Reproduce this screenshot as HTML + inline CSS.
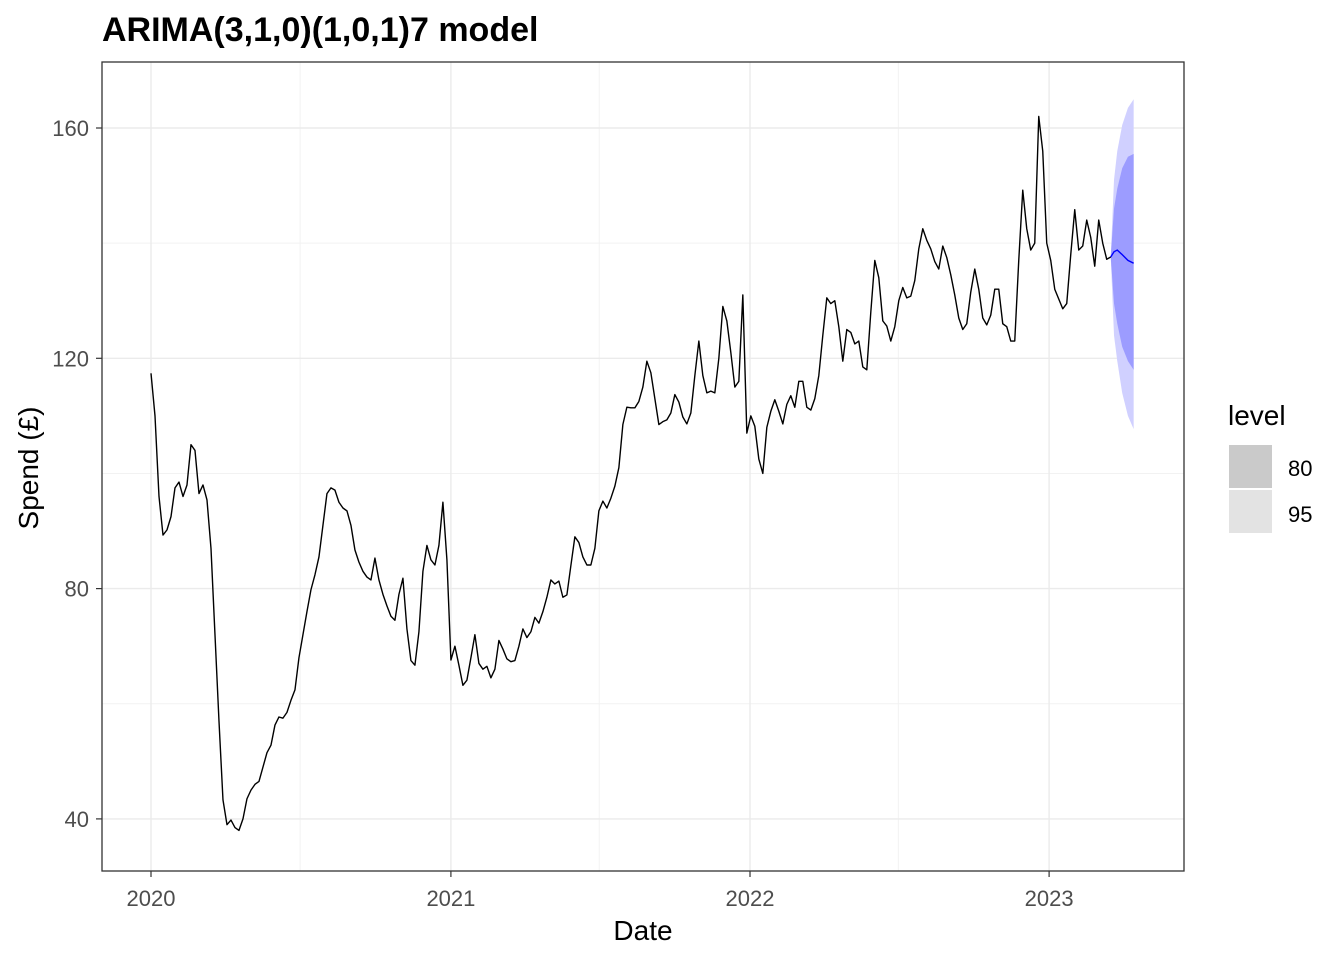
<!DOCTYPE html>
<html><head><meta charset="utf-8"><style>
body{margin:0;background:#fff;}
svg text{font-family:"Liberation Sans",Arial,sans-serif;}
</style></head><body>
<svg id="chart" width="1344" height="960" xmlns="http://www.w3.org/2000/svg">
<rect width="1344" height="960" fill="#fff"/>
<text x="102" y="41" font-size="34" font-weight="bold" fill="#000">ARIMA(3,1,0)(1,0,1)7 model</text>
<g id="grid"></g>
<g id="bands"></g>
<g id="lines"></g>
<rect x="102" y="62" width="1082" height="809" fill="none" stroke="#333" stroke-width="1.3"/>
<g id="axes"></g>
<text x="643" y="940" font-size="28" text-anchor="middle" fill="#000">Date</text>
<text transform="translate(38,468) rotate(-90)" font-size="28" text-anchor="middle" fill="#000">Spend (£)</text>
<g>
<text x="1228" y="425" font-size="28" fill="#000">level</text>
<rect x="1229" y="445" width="43" height="43" fill="#cacaca"/>
<rect x="1229" y="490" width="43" height="43" fill="#e3e3e3"/>
<text x="1288" y="476" font-size="22" fill="#000">80</text>
<text x="1288" y="522" font-size="22" fill="#000">95</text>
</g>
</svg>
<script>
const startDay = 0;           // days since 2020-01-01
const stepDays = 4.88;
const spend = [117.4,110,96,89.3,90.2,92.5,97.5,98.5,96,98,105,104,96.5,98,95.4,87,72,57,43.3,39,39.8,38.5,38,40,43.5,45,46,46.5,49,51.5,52.8,56.3,57.7,57.5,58.5,60.6,62.4,68,72,76,79.8,82.4,85.5,91,96.5,97.5,97.1,95,94,93.5,91,86.7,84.6,83,82,81.5,85.3,81.5,79,77,75.2,74.5,79,81.8,73,67.5,66.7,72.5,83,87.5,85,84.1,87.5,95,85,67.6,70,66.7,63.2,64.1,68,72,67,66,66.5,64.5,66,71,69.5,67.8,67.3,67.5,70,73,71.5,72.5,75,74,76,78.5,81.5,80.8,81.3,78.5,78.9,84,89,88,85.5,84.1,84.1,87,93.5,95.2,94,95.7,97.8,101,108.5,111.5,111.4,111.4,112.5,115,119.5,117.5,113,108.5,109,109.3,110.5,113.7,112.4,109.8,108.6,110.5,117,123,117,114,114.3,114,120,129,126.5,121,115,116,131,107,110,108.2,102.5,100,108,110.8,112.8,110.8,108.6,112,113.5,111.5,116,116,111.5,111,113,117,124,130.5,129.5,130,125.5,119.5,125,124.5,122.5,123,118.5,118,128,137,134,126.5,125.6,123,125.5,130,132.3,130.5,130.8,133.5,139,142.5,140.5,139,136.8,135.5,139.5,137.5,134.5,131,127,125,126,131.5,135.5,132,127,125.8,127.5,132,132,126,125.5,123,123,137,149.2,142.5,138.8,140,162,156,140,137,132,130.3,128.6,129.5,138,145.8,138.8,139.5,144,141,136,144,140,137.2,137.6];
const fcOffsets = [0,4,8,14,21,28];
const fcMean = [137.6,138.5,138.8,138,137,136.5];
const hi80 = [137.6,146,149.5,153,155,155.5];
const lo80 = [137.6,129.5,126,122,119.5,118];
const hi95 = [137.6,151,156,160.5,163.5,165];
const lo95 = [137.6,124,119.5,114,110,107.7];
const yTicks = [40,80,120,160];
const yMinor = [60,100,140];
const xTickLabels = ["2020","2021","2022","2023"];
const xTickDays = [0,366,731,1096];
const xMinorDays = [182,547,912];

const NS="http://www.w3.org/2000/svg";
const px0=151, pxPerDay=299.3/365.25;
const xS=d=>px0+d*pxPerDay;
const yS=v=>128+(160-v)*(230.3/40);
function mk(tag,attrs,parent){const e=document.createElementNS(NS,tag);for(const k in attrs)e.setAttribute(k,attrs[k]);parent.appendChild(e);return e;}
const grid=document.getElementById('grid'),bands=document.getElementById('bands'),lines=document.getElementById('lines'),axes=document.getElementById('axes');
yMinor.forEach(v=>{const l=mk('line',{x1:102,x2:1184,y1:yS(v),y2:yS(v),stroke:'#f2f2f2','stroke-width':1},grid);

});
xMinorDays.forEach(d=>{const l=mk('line',{x1:xS(d),x2:xS(d),y1:62,y2:871,stroke:'#f2f2f2','stroke-width':1},grid);

});
yTicks.forEach(v=>{const y=yS(v);
const l=mk('line',{x1:102,x2:1184,y1:y,y2:y,stroke:'#ebebeb','stroke-width':1.4},grid);


const t=mk('line',{x1:96,x2:102,y1:y,y2:y,stroke:'#333','stroke-width':1.2},axes);


const tx=mk('text',{x:89,y:y+8,'font-size':22,'text-anchor':'end',fill:'#4d4d4d'},axes);tx.textContent=v;

});
xTickDays.forEach((d,i)=>{const x=xS(d);
const l=mk('line',{x1:x,x2:x,y1:62,y2:871,stroke:'#ebebeb','stroke-width':1.4},grid);


const t=mk('line',{x1:x,x2:x,y1:871,y2:877,stroke:'#333','stroke-width':1.2},axes);


const tx=mk('text',{x:x,y:906,'font-size':22,'text-anchor':'middle',fill:'#4d4d4d'},axes);tx.textContent=xTickLabels[i];

});
const lastDay=startDay+(spend.length-1)*stepDays;
function band(hi,lo,fill,name){let pts=fcOffsets.map((o,i)=>xS(lastDay+o)+','+yS(hi[i]));
pts=pts.concat(fcOffsets.map((o,i)=>xS(lastDay+o)+','+yS(lo[i])).reverse());
const p=mk('polygon',{points:pts.join(' '),fill:fill},bands);

}
band(hi95,lo95,'#d0d0ff','band-95');
band(hi80,lo80,'#9c9cff','band-80');
const hist=mk('polyline',{points:spend.map((v,i)=>xS(startDay+i*stepDays)+','+yS(v)).join(' '),fill:'none',stroke:'#000','stroke-width':1.4,'stroke-linejoin':'round'},lines);


const fl=mk('polyline',{points:fcOffsets.map((o,i)=>xS(lastDay+o)+','+yS(fcMean[i])).join(' '),fill:'none',stroke:'#0000ff','stroke-width':1.4},lines);


</script>
</body></html>
